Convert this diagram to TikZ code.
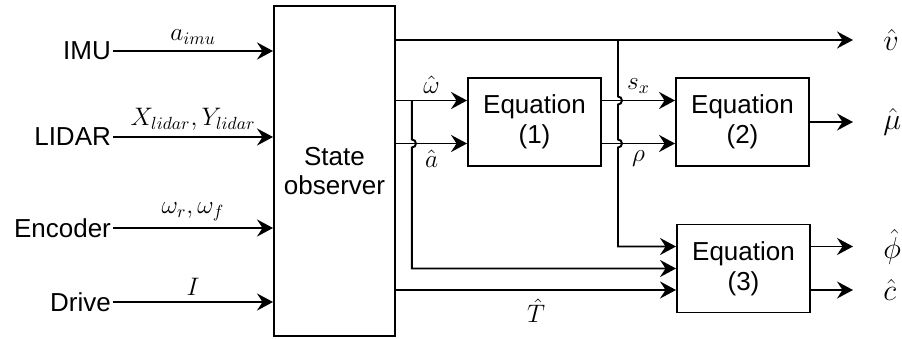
\documentclass[tikz,border=0pt]{standalone}
\usepackage{fontspec}
\setmainfont{Liberation Sans}
\usetikzlibrary{arrows.meta,positioning,calc}

\begin{document}
\begin{tikzpicture}[
    x=0.02cm, y=-0.02cm,
    font=\fontsize{14.8}{17}\selectfont,
    block/.style={rectangle, draw, line width=1.1pt, align=center, inner sep=0pt},
    eqblock/.style={block, minimum width=2.66cm, minimum height=1.76cm},
    src/.style={anchor=east, inner sep=1pt},
    outlbl/.style={font=\fontsize{18}{21}\selectfont, inner sep=0pt},
    arrow/.style={-{Stealth[length=3.2mm,width=3.4mm,inset=1.1mm]}, line width=1.1pt}
]
    \useasboundingbox (0,0) rectangle (902,338);

    % blocks
    \node[block, minimum width=2.42cm, minimum height=6.6cm] (obs) at (334.5,171) {State\\observer};
    \node[eqblock] (eq1) at (534.5,122) {Equation\\(1)};
    \node[eqblock] (eq2) at (742.5,122) {Equation\\(2)};
    \node[eqblock] (eq3) at (743.5,268.5) {Equation\\(3)};

    % sensors
    \node[src] (imu) at (113,51) {IMU};
    \node[src] (lidar) at (113,137) {LIDAR};
    \node[src] (enc) at (113,228) {Encoder};
    \node[src] (drv) at (113,302) {Drive};

    \draw[arrow] (imu) -- node[above] {$a_{imu}$} (imu -| obs.west);
    \draw[arrow] (lidar) -- node[above] {$X_{lidar},Y_{lidar}$} (lidar -| obs.west);
    \draw[arrow] (enc) -- node[above] {$\omega_r,\omega_f$} (enc -| obs.west);
    \draw[arrow] (drv) -- node[above] {$I$} (drv -| obs.west);

    % helper points
    \coordinate (win) at ($(eq1.west)+(0,-21.5)$);
    \coordinate (ain) at ($(eq1.west)+(0,21.5)$);
    \coordinate (e3a) at ($(eq3.west)+(0,-22)$);
    \coordinate (e3c) at ($(eq3.west)+(0,21.5)$);
    \coordinate (wsplit) at ($(obs.east |- win)+(16,0)$);
    \coordinate (vsplit) at (618,40);
    \coordinate (vend) at (853,40);
    \coordinate (muend) at (vend |- eq2.east);
    \coordinate (phiend) at (vend |- e3a);
    \coordinate (cend) at (vend |- e3c);

    % observer outputs
    \draw[arrow] (obs.east |- vend) -- (vend);
    \draw[arrow] (obs.east |- win) -- node[above] {$\hat{\omega}$} (win);
    \draw[arrow] (obs.east |- ain) -- node[below] {$\hat{a}$} (ain);
    \draw[arrow] (obs.east |- e3c) -- node[below=1pt] {$\hat{T}$} (e3c);

    % equation (1) to (2)
    \draw[arrow] (eq1.east |- win) -- node[above] {$s_x$} (eq2.west |- win);
    \draw[arrow] (eq1.east |- ain) -- node[below] {$\rho$} (eq2.west |- ain);

    % branches to equation (3), hopping over crossings
    \draw[arrow] (wsplit) -- ($(wsplit |- ain)+(0,-4)$)
        arc[start angle=90, end angle=-90, radius=0.08cm]
        -- (wsplit |- eq3.west) -- (eq3.west);
    \draw[arrow] (vsplit) -- ($(vsplit |- win)+(0,-4)$)
        arc[start angle=90, end angle=-90, radius=0.08cm]
        -- ($(vsplit |- ain)+(0,-4)$)
        arc[start angle=90, end angle=-90, radius=0.08cm]
        -- (vsplit |- e3a) -- (e3a);

    % estimates
    \draw[arrow] (eq2.east) -- (muend);
    \draw[arrow] (eq3.east |- e3a) -- (phiend);
    \draw[arrow] (eq3.east |- e3c) -- (cend);

    \node[outlbl, right=0.6cm of vend] (vhat) {$\hat{v}$};
    \node[outlbl, right=0.6cm of muend] (muhat) {$\hat{\mu}$};
    \node[outlbl, right=0.6cm of phiend] (phihat) {$\hat{\phi}$};
    \node[outlbl, right=0.6cm of cend] (chat) {$\hat{c}$};
\end{tikzpicture}
\end{document}
